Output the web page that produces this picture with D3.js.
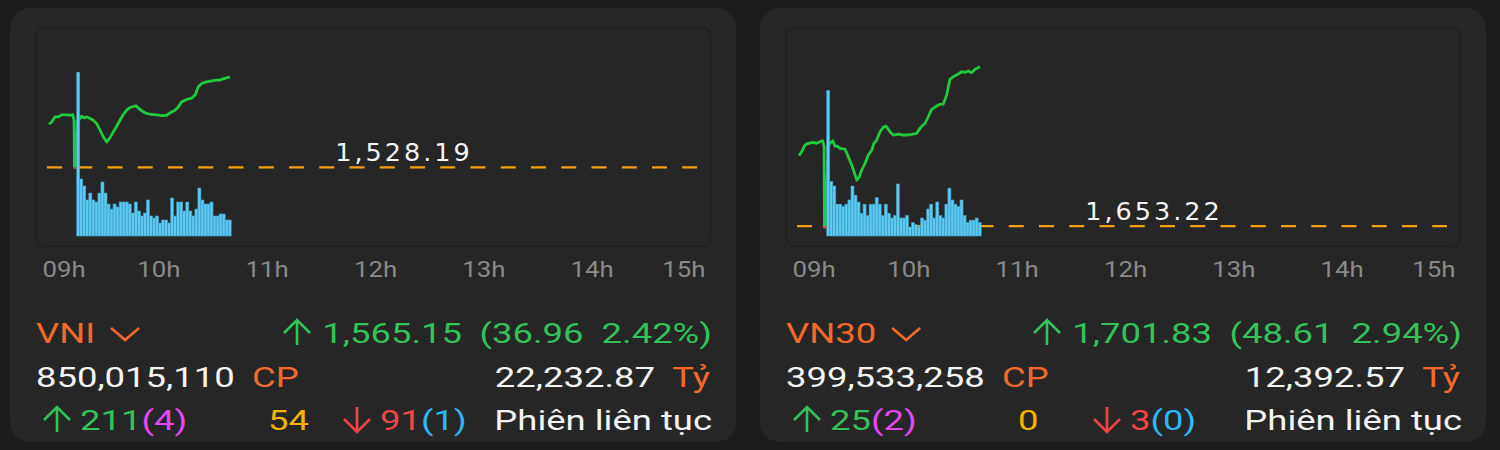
<!DOCTYPE html>
<html><head><meta charset="utf-8">
<script src="https://cdn.jsdelivr.net/npm/d3@7"></script>
<style>
html,body{margin:0;padding:0;background:#1c1c1c;}
svg{display:block;}
</style></head>
<body>
<svg id="c" width="1500" height="450"></svg>
<script>
// ---------- data ----------
const hourTicks = [0, 60, 120, 180, 240, 300, 360];        // minutes after 09:00
const hourLabels = ["09h", "10h", "11h", "12h", "13h", "14h", "15h"];

// VNI intraday (minutes after 09:00, index value)
const vniMinutes = [1.1, 2.6, 4.4, 6.3, 8.1, 10.9, 12.7, 14.2, 15.0, 15.2, 15.8, 16.9, 17.3, 19.2, 20.5, 22.0, 23.4, 25.6, 27.5, 29.4, 31.2, 33.1, 34.9, 36.7, 38.6, 40.4, 42.3, 44.1, 46.0, 49.3, 51.5, 54.3, 57.0, 60.8, 63.5, 66.3, 68.1, 70.9, 72.7, 74.6, 77.4, 80.1, 82.0, 83.8, 85.7, 88.4, 91.2, 94.0, 95.8, 97.6, 101.3];
const vniValues = [1545.79, 1546.73, 1548.78, 1548.78, 1549.60, 1549.60, 1549.47, 1549.76, 1547.43, 1528.19, 1528.19, 1547.02, 1547.43, 1549.06, 1548.37, 1548.78, 1548.37, 1547.43, 1546.08, 1543.33, 1540.59, 1538.55, 1540.35, 1542.64, 1544.97, 1547.43, 1549.76, 1551.52, 1552.63, 1553.28, 1551.81, 1550.41, 1549.88, 1549.60, 1549.35, 1549.47, 1550.41, 1551.52, 1552.87, 1554.92, 1555.90, 1556.43, 1557.66, 1561.06, 1562.45, 1563.10, 1563.51, 1563.80, 1563.80, 1564.33, 1565.15];
const vniVolumes = [81.9, 28.5, 25, 18, 21.5, 18, 17, 21.5, 27, 21.5, 16, 13.5, 16, 14.5, 17, 17, 17, 16, 11.5, 17, 12.5, 10, 11.5, 18, 10, 9, 10, 6.5, 8, 8, 6.5, 19, 10, 17, 17, 12.5, 17, 12.5, 10, 13.5, 24, 18, 16, 16, 17, 10, 10, 11, 11, 8, 8];

// VN30 intraday
const vn30Minutes = [1.1, 2.6, 4.4, 6.3, 9.0, 10.9, 12.7, 14.2, 15.0, 15.2, 15.8, 17.2, 18.3, 19.8, 21.0, 22.3, 23.8, 26.6, 28.4, 30.3, 31.6, 33.1, 34.5, 35.8, 37.7, 39.5, 41.4, 42.6, 44.1, 46.0, 47.8, 49.3, 51.5, 53.3, 56.1, 58.9, 62.6, 66.3, 68.1, 70.9, 72.7, 74.6, 77.4, 79.2, 81.0, 82.9, 83.8, 84.7, 86.6, 89.3, 91.2, 93.0, 94.9, 96.7, 98.6, 101.3];
const vn30Values = [1674.67, 1675.89, 1677.94, 1678.46, 1678.76, 1678.46, 1678.94, 1679.25, 1677.42, 1652.90, 1652.90, 1677.63, 1678.46, 1679.25, 1677.63, 1677.63, 1676.93, 1676.72, 1674.37, 1671.83, 1669.79, 1667.26, 1668.26, 1670.31, 1672.35, 1674.89, 1676.41, 1678.46, 1679.46, 1682.00, 1683.34, 1683.73, 1682.00, 1680.99, 1681.29, 1680.99, 1681.08, 1681.51, 1683.03, 1684.56, 1686.57, 1688.83, 1689.84, 1690.36, 1690.45, 1693.19, 1695.73, 1697.98, 1698.78, 1699.60, 1700.30, 1700.12, 1700.52, 1700.00, 1701.04, 1701.83];
const vn30Volumes = [72.7, 27.2, 25, 15.9, 15.9, 14.7, 15.9, 18, 25, 20.4, 17, 11.4, 15.9, 10.2, 15.9, 15.9, 19.2, 15.9, 10.2, 15.9, 11.4, 9, 10.2, 26, 9, 9, 10.2, 4.5, 6.7, 5.7, 4.5, 9, 7.9, 13.5, 15.9, 9, 17, 10.2, 9, 15.9, 23.9, 18, 15.9, 14.7, 18, 10.2, 6.7, 7.9, 7.9, 9, 6.7];

const barStartMinute = 16.45;   // first volume bar (after ATO)
const barStepMinute = 1.678;

// summary rows
const indexNames = ["VNI", "VN30"];
const refValues = [1528.19, 1653.22];
const lastValues = ["1,565.15", "1,701.83"];
const changeTexts = ["(36.96  2.42%)", "(48.61  2.94%)"];
const shareVolumes = ["850,015,110", "399,533,258"];
const tradeValues = ["22,232.87", "12,392.57"];
const advances = ["211", "25"];
const ceilings = ["(4)", "(2)"];
const unchanged = ["54", "0"];
const declines = ["91", "3"];
const floors = ["(1)", "(0)"];
const sessionText = "Phiên liên tục";
const yDomains = [[1500.2, 1581.8], [1650.2, 1711.2]];

// ---------- drawing ----------
const svg = d3.select("#c");
const C = {
  card: "#262626", inner: "#262626", innerStroke: "#1f1f1f",
  green: "#1fcb3c", greenText: "#33c25a", red: "#f24646", orange: "#f2692a",
  white: "#f4f4f4", grey: "#8a8a8a", magenta: "#e348f2", yellow: "#f6b400",
  cyan: "#2cb8f2", bar: "#5ccaf2", barStroke: "#3f9cc0", dash: "#f0a010"
};
const SX = 1.35;      // horizontal stretch of the summary text
const TSX = 1.2;      // horizontal stretch of the time labels
const defs = svg.append("defs");

function panel(i, ox) {
  const g = svg.append("g").attr("transform", `translate(${ox},0)`);
  g.append("rect").attr("x", 10).attr("y", 8).attr("width", 726).attr("height", 434)
    .attr("rx", 20).attr("fill", C.card);
  g.append("rect").attr("x", 36).attr("y", 27.5).attr("width", 674.5).attr("height", 219)
    .attr("rx", 9).attr("fill", C.inner).attr("stroke", C.innerStroke).attr("stroke-width", 1.5);

  const x = d3.scaleLinear().domain([0, 360]).range([47, 697]);
  const y = d3.scaleLinear().domain(yDomains[i]).range([236, 36]);
  const yv = d3.scaleLinear().domain([0, 100]).range([236, 36]);
  const refY = y(refValues[i]);

  // axis
  const last = hourTicks.length - 1;
  const ax = g.append("g").attr("transform", "translate(0,262)")
    .call(d3.axisBottom(x).tickValues(hourTicks).tickFormat((d, k) => hourLabels[k]).tickSize(0).tickPadding(0));
  ax.select(".domain").remove();
  ax.selectAll("text").attr("fill", C.grey).attr("font-family", "Roboto, sans-serif")
    .attr("font-size", 21.5)
    .attr("transform", `scale(${TSX},1)`)
    .attr("text-anchor", (d, k) => k === 0 ? "start" : (k === last ? "end" : "middle"))
    .attr("x", (d, k) => (k === 0 ? -5 : (k === last ? 8 : 3)) / TSX);

  // reference dashed line
  g.append("line").attr("x1", x(0)).attr("x2", x(360)).attr("y1", refY).attr("y2", refY)
    .attr("stroke", C.dash).attr("stroke-width", 2.2).attr("stroke-dasharray", "15,15.25");

  // price line: green above reference, red below
  const mins = i === 0 ? vniMinutes : vn30Minutes;
  const vals = i === 0 ? vniValues : vn30Values;
  const pts = mins.map((m, k) => [m, vals[k]]);
  const line = d3.line().x(d => x(d[0])).y(d => y(d[1]));
  const idA = "ca" + i, idB = "cb" + i;
  defs.append("clipPath").attr("id", idA).append("rect").attr("x", 0).attr("y", 0).attr("width", 740).attr("height", refY);
  defs.append("clipPath").attr("id", idB).append("rect").attr("x", 0).attr("y", refY).attr("width", 740).attr("height", 100);
  g.append("path").datum(pts).attr("d", line).attr("fill", "none").attr("stroke", C.green)
    .attr("stroke-width", 2.8).attr("stroke-linejoin", "round").attr("clip-path", `url(#${idA})`);
  g.append("path").datum(pts).attr("d", line).attr("fill", "none").attr("stroke", C.red)
    .attr("stroke-width", 2.8).attr("stroke-linejoin", "round").attr("clip-path", `url(#${idB})`);

  // volume bars
  const vols = i === 0 ? vniVolumes : vn30Volumes;
  const bw = x(barStepMinute) - x(0);
  g.append("g").selectAll("rect").data(vols).join("rect")
    .attr("x", (d, k) => x(barStartMinute + k * barStepMinute))
    .attr("y", d => yv(d)).attr("width", bw).attr("height", d => yv(0) - yv(d))
    .attr("fill", C.bar).attr("stroke", C.barStroke).attr("stroke-width", 0.6);

  // reference label
  g.append("text").attr("x", 404).attr("y", refY - 6.5).attr("text-anchor", "middle")
    .attr("font-family", "DejaVu Sans, sans-serif").attr("font-size", 25.5).attr("letter-spacing", 3)
    .attr("fill", C.white).text(d3.format(",.2f")(refValues[i]));

  // summary text (horizontally stretched like the reference)
  const F = "Roboto, sans-serif", FS = 27;
  const t = (xx, yy, s, col, anchor) => g.append("g")
    .attr("transform", `translate(${xx},${yy}) scale(${SX},1)`)
    .append("text").attr("x", 0).attr("y", 0)
    .attr("font-family", F).attr("font-size", FS).attr("fill", col)
    .attr("text-anchor", anchor || "start").attr("xml:space", "preserve").text(s);

  const nm = t(36, 343, indexNames[i], C.orange);
  const nw = nm.node().getComputedTextLength() * SX;
  const cx = 36 + nw + 16;
  g.append("path").attr("d", `M${cx},328 L${cx + 14},340 L${cx + 28},328`).attr("fill", "none")
    .attr("stroke", C.orange).attr("stroke-width", 2.6);

  const arrow = (xc, yb, up, col) => {
    const h = 25, top = yb - h;
    const p = up
      ? `M${xc},${yb} L${xc},${top + 1} M${xc - 13},${top + 13} L${xc},${top} L${xc + 13},${top + 13}`
      : `M${xc},${top} L${xc},${yb - 1} M${xc - 13},${yb - 13} L${xc},${yb} L${xc + 13},${yb - 13}`;
    g.append("path").attr("d", p).attr("fill", "none").attr("stroke", col).attr("stroke-width", 2.6);
  };

  arrow(297, 345, true, C.greenText);
  t(462, 343, lastValues[i], C.greenText, "end");
  t(712, 343, changeTexts[i], C.greenText, "end");

  t(36, 387, shareVolumes[i], C.white);
  t(252, 387, "CP", C.orange);
  t(655, 387, tradeValues[i], C.white, "end");
  t(710, 387, "Tỷ", C.orange, "end");

  arrow(57, 432, true, C.greenText);
  const a = t(80, 430, "", C.greenText);
  a.append("tspan").attr("fill", C.greenText).text(advances[i]);
  a.append("tspan").attr("fill", C.magenta).text(ceilings[i]);
  t(268, 430, unchanged[i], C.yellow);
  arrow(357, 432, false, C.red);
  const b = t(380, 430, "", C.red);
  b.append("tspan").attr("fill", C.red).text(declines[i]);
  b.append("tspan").attr("fill", C.cyan).text(floors[i]);
  t(712, 430, sessionText, C.white, "end");
}

panel(0, 0);
panel(1, 750);
</script>
</body></html>
